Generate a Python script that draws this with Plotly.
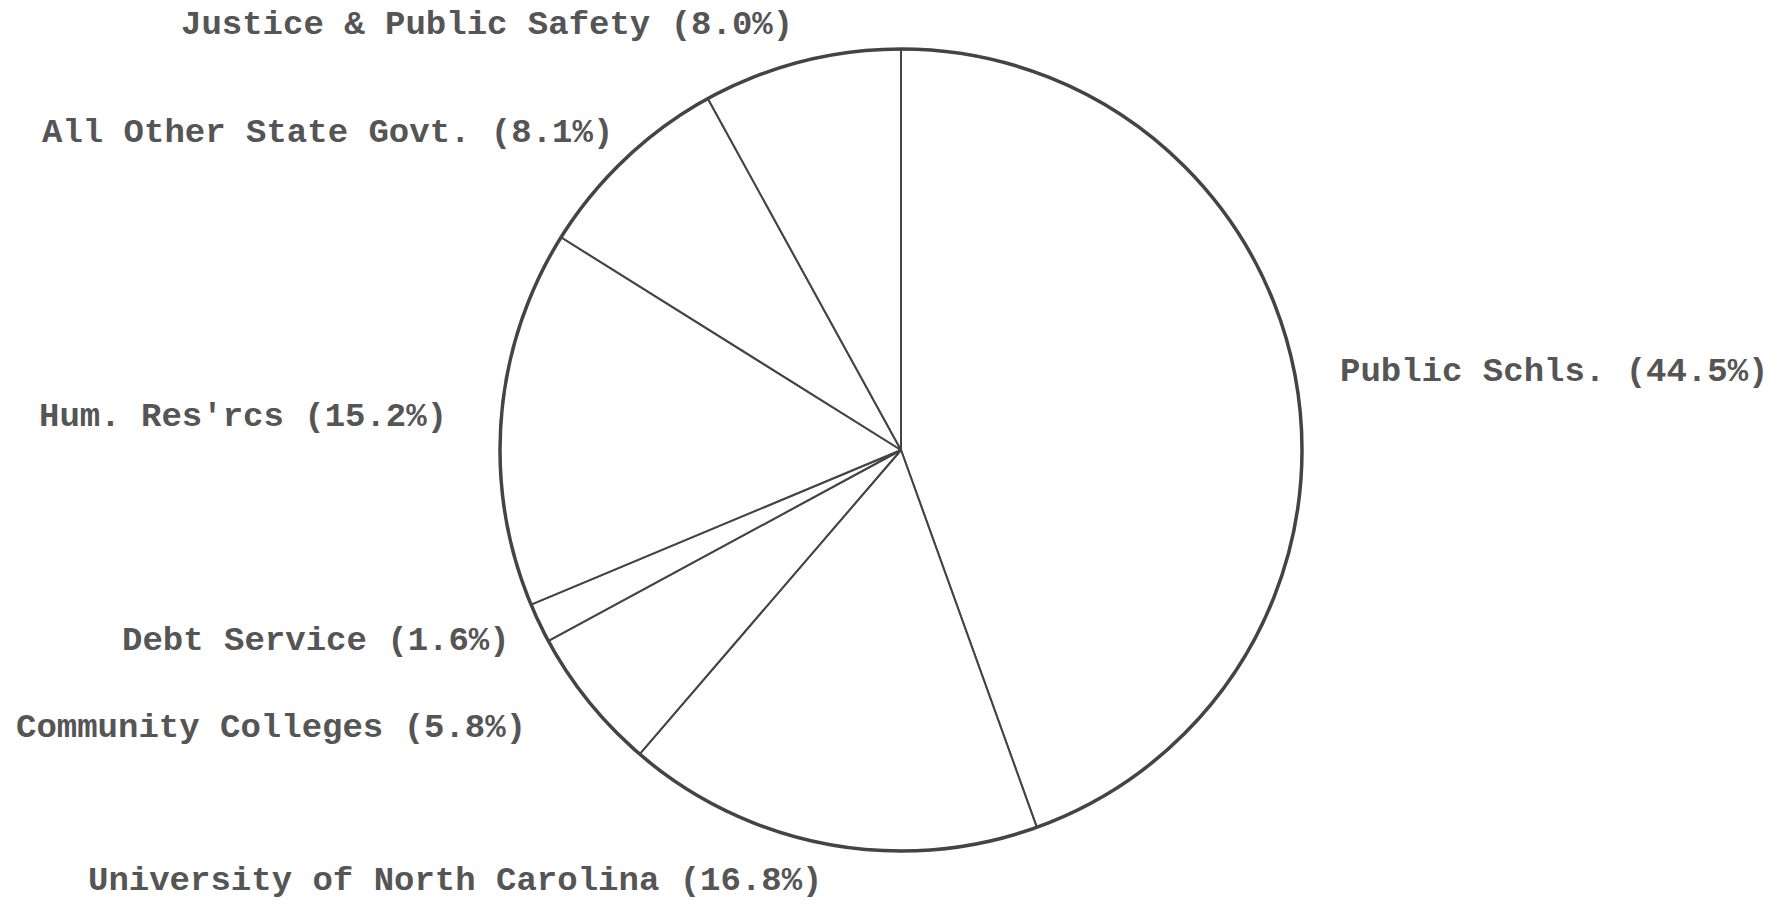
import plotly.graph_objects as go

categories = ["Public Schls.", "University of North Carolina", "Community Colleges",
              "Debt Service", "Hum. Res'rcs", "All Other State Govt.", "Justice & Public Safety"]
percents = [44.5, 16.8, 5.8, 1.6, 15.2, 8.1, 8.0]

# label anchor positions (pixels from left, top) in a 1773x905 canvas
label_pos = [(1338, 372, "left"), (86, 881, "left"), (14, 728, "left"),
             (120, 641, "left"), (37, 417, "left"), (40, 133, "left"), (179, 25, "left")]

W, H = 1773, 905
cx, cy, r = 901, 450, 401
dom_x = [(cx - r) / W, (cx + r) / W]
dom_y = [(H - cy - r) / H, (H - cy + r) / H]

fig = go.Figure()
fig.add_trace(go.Pie(
    labels=categories, values=percents, sort=False, direction="clockwise", rotation=0,
    marker=dict(colors=["white"] * len(categories), line=dict(color="#444444", width=2)),
    textinfo="none", hoverinfo="skip", showlegend=False,
    domain=dict(x=dom_x, y=dom_y),
))
fig.add_trace(go.Pie(
    labels=["total"], values=[sum(percents)], sort=False,
    marker=dict(colors=["rgba(0,0,0,0)"], line=dict(color="#444444", width=3.5)),
    textinfo="none", hoverinfo="skip", showlegend=False,
    domain=dict(x=dom_x, y=dom_y),
))

for cat, p, (px, py, anchor) in zip(categories, percents, label_pos):
    fig.add_annotation(
        x=px / W, y=1 - py / H, xref="paper", yref="paper",
        xanchor=anchor, yanchor="middle", showarrow=False,
        text=f"<b>{cat} ({p:.1f}%)</b>",
        font=dict(family="Liberation Mono", size=34, color="#555555"),
    )

fig.update_layout(
    width=W, height=H, margin=dict(l=0, r=0, t=0, b=0),
    paper_bgcolor="white", plot_bgcolor="white",
)
fig.write_html("out.html")
